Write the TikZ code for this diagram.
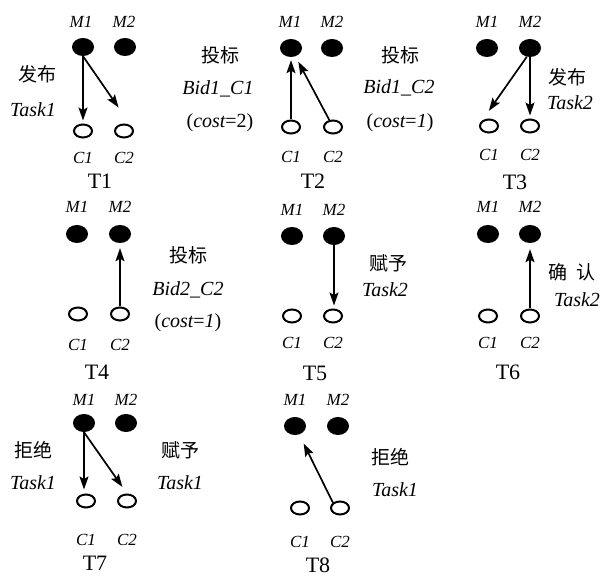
\documentclass[tikz,border=0pt]{standalone}
\usepackage{fontspec}
\setmainfont{Liberation Serif}
\newfontfamily\cjk{Noto Sans CJK SC}
\usetikzlibrary{shapes.geometric,arrows.meta}
\begin{document}
\begin{tikzpicture}[x=1pt,y=-1pt,
 mdot/.style={ellipse,fill=black,minimum width=22pt,minimum height=18pt,inner sep=0pt},
 cdot/.style={ellipse,draw=black,line width=2pt,minimum width=18pt,minimum height=13pt,inner sep=0pt},
 nlab/.style={font=\fontsize{17}{17}\selectfont\itshape,inner sep=0pt},
 tlab/.style={font=\fontsize{22}{22}\selectfont,inner sep=0pt},
 ilab/.style={font=\fontsize{20}{20}\selectfont\itshape,inner sep=0pt},
 zlab/.style={font=\fontsize{19}{19}\selectfont\cjk,inner sep=0pt},
 arr/.style={line width=1.7pt,-{Stealth[length=13pt,width=9pt,inset=2.5pt]}},
]
\fill[white] (0,0) rectangle (606,577);
\useasboundingbox (0,0) rectangle (606,577);

% ---------- T1
\node[mdot] (t1m1) at (83,47) {};
\node[mdot] (t1m2) at (125,47) {};
\node[cdot] (t1c1) at (83,131) {};
\node[cdot] (t1c2) at (124,131) {};
\node[nlab] (t1lm1) at (81,22) {M1};
\node[nlab] (t1lm2) at (124,22) {M2};
\node[nlab] (t1lc1) at (83,158) {C1};
\node[nlab] (t1lc2) at (124,158) {C2};
\node[tlab] (t1t) at (100,181) {T1};
\node[zlab] (t1a) at (38,74) {发布};
\node[ilab] (t1b) at (33,110) {Task1};
\draw[arr,shorten >=3pt] (t1m1.south) -- (t1m1.south |- t1c1.north);
\draw[arr,shorten >=22pt] (t1m1.south) -- (t1c2.north east);

% ---------- T2
\node[mdot] (t2m1) at (291,48) {};
\node[mdot] (t2m2) at (332,48) {};
\node[cdot] (t2c1) at (291,127) {};
\node[cdot] (t2c2) at (333,127) {};
\node[nlab] (t2lm1) at (290,22) {M1};
\node[nlab] (t2lm2) at (332,22) {M2};
\node[nlab] (t2lc1) at (291,157) {C1};
\node[nlab] (t2lc2) at (333,157) {C2};
\node[tlab] (t2t) at (313,181) {T2};
\node[zlab] (t2a) at (220,55) {投标};
\node[ilab] (t2b) at (218,89) {Bid1\_C1};
\node[ilab] (t2c) at (220,123) {\upshape(\itshape cost\upshape=2)};
\node[zlab] (t2d) at (400,55) {投标};
\node[ilab] (t2e) at (399,88) {Bid1\_C2};
\node[ilab] (t2f) at (400,123) {\upshape(\itshape cost\upshape=\itshape1\upshape)};
\draw[arr,shorten >=3pt] (t2c1) -- (t2m1);
\draw[arr,shorten >=6pt] (t2c2) -- (t2m1);

% ---------- T3
\node[mdot] (t3m1) at (487,48) {};
\node[mdot] (t3m2) at (530,48) {};
\node[cdot] (t3c1) at (489,126) {};
\node[cdot] (t3c2) at (530,126) {};
\node[nlab] (t3lm1) at (487,22) {M1};
\node[nlab] (t3lm2) at (530,22) {M2};
\node[nlab] (t3lc1) at (489,155) {C1};
\node[nlab] (t3lc2) at (530,155) {C2};
\node[tlab] (t3t) at (515,182) {T3};
\node[zlab] (t3a) at (567,77) {发布};
\node[ilab] (t3b) at (570,103) {Task2};
\draw[arr,shorten >=12pt] (t3m2.250) -- (t3c1.north west);
\draw[arr,shorten >=3pt] (t3m2) -- (t3c2);

% ---------- T4
\node[mdot] (t4m1) at (77,234) {};
\node[mdot] (t4m2) at (120,234) {};
\node[cdot] (t4c1) at (78,314) {};
\node[cdot] (t4c2) at (120,314) {};
\node[nlab] (t4lm1) at (77,207) {M1};
\node[nlab] (t4lm2) at (120,207) {M2};
\node[nlab] (t4lc1) at (78,345) {C1};
\node[nlab] (t4lc2) at (120,345) {C2};
\node[tlab] (t4t) at (97,372) {T4};
\node[zlab] (t4a) at (188,255) {投标};
\node[ilab] (t4b) at (188,290) {Bid2\_C2};
\node[ilab] (t4c) at (188,323) {\upshape(\itshape cost\upshape=\itshape1\upshape)};
\draw[arr,shorten >=5pt] (t4c2) -- (t4m2);

% ---------- T5
\node[mdot] (t5m1) at (292,236) {};
\node[mdot] (t5m2) at (334,236) {};
\node[cdot] (t5c1) at (292,316) {};
\node[cdot] (t5c2) at (333,316) {};
\node[nlab] (t5lm1) at (292,210) {M1};
\node[nlab] (t5lm2) at (334,210) {M2};
\node[nlab] (t5lc1) at (292,343) {C1};
\node[nlab] (t5lc2) at (333,343) {C2};
\node[tlab] (t5t) at (315,373) {T5};
\node[zlab] (t5a) at (388,263) {赋予};
\node[ilab] (t5b) at (385,290) {Task2};
\draw[arr,shorten >=3pt] (t5m2.south) -- (t5m2.south |- t5c2.north);

% ---------- T6
\node[mdot] (t6m1) at (488,234) {};
\node[mdot] (t6m2) at (530,234) {};
\node[cdot] (t6c1) at (488,316) {};
\node[cdot] (t6c2) at (530,316) {};
\node[nlab] (t6lm1) at (488,207) {M1};
\node[nlab] (t6lm2) at (530,207) {M2};
\node[nlab] (t6lc1) at (488,343) {C1};
\node[nlab] (t6lc2) at (530,343) {C2};
\node[tlab] (t6t) at (508,372) {T6};
\node[zlab] (t6a) at (572,272) {确\hspace{10pt}认};
\node[ilab] (t6b) at (577,300) {Task2};
\draw[arr,shorten >=6pt] (t6c2) -- (t6m2);

% ---------- T7
\node[mdot] (t7m1) at (84,423) {};
\node[mdot] (t7m2) at (126,423) {};
\node[cdot] (t7c1) at (86,501) {};
\node[cdot] (t7c2) at (127,501) {};
\node[nlab] (t7lm1) at (84,400) {M1};
\node[nlab] (t7lm2) at (126,400) {M2};
\node[nlab] (t7lc1) at (86,540) {C1};
\node[nlab] (t7lc2) at (127,540) {C2};
\node[tlab] (t7t) at (95,563) {T7};
\node[zlab] (t7a) at (33,450) {拒绝};
\node[ilab] (t7b) at (33,483) {Task1};
\node[zlab] (t7c) at (180,450) {赋予};
\node[ilab] (t7d) at (180,483) {Task1};
\draw[arr,shorten >=4pt] (t7m1.south) -- (t7m1.south |- t7c1.north);
\draw[arr,shorten >=8pt] (t7m1.south) -- (t7c2.north);

% ---------- T8
\node[mdot] (t8m1) at (295,426) {};
\node[mdot] (t8m2) at (338,426) {};
\node[cdot] (t8c1) at (300,508) {};
\node[cdot] (t8c2) at (340,508) {};
\node[nlab] (t8lm1) at (295,400) {M1};
\node[nlab] (t8lm2) at (338,400) {M2};
\node[nlab] (t8lc1) at (300,542) {C1};
\node[nlab] (t8lc2) at (340,542) {C2};
\node[tlab] (t8t) at (318,565) {T8};
\node[zlab] (t8a) at (390,457) {拒绝};
\node[ilab] (t8b) at (395,490) {Task1};
\draw[arr,shorten >=10pt] (t8c2.north west) -- (t8m1);
\end{tikzpicture}
\end{document}
